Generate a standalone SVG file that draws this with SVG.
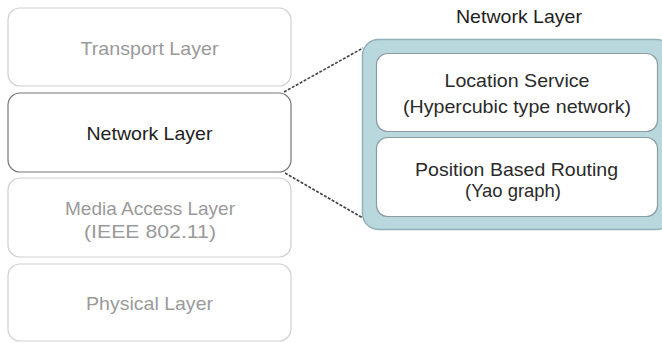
<svg xmlns="http://www.w3.org/2000/svg" width="662" height="343" viewBox="0 0 662 343">
<style>
text{font-family:"Liberation Sans",Arial,sans-serif;font-size:19px;text-anchor:middle}
.faded rect{fill:#fff;stroke:#cfcfcf;stroke-width:1.2}
.faded text{fill:#9a9a9a}
.active rect{fill:#fff;stroke:#777;stroke-width:1.2}
.active text{fill:#222}
.inner rect{fill:#fff;stroke:#8a9ea2;stroke-width:1.2}
.inner text{fill:#2a2a2a}
.dash{stroke:#444;stroke-width:1.6;stroke-dasharray:3 1.5;fill:none}
</style>
<rect width="662" height="343" fill="#fff"/>
<g id="transport" class="faded">
<rect x="8" y="8" width="283" height="78" rx="12"/>
<text x="149.5" y="55" textLength="138" lengthAdjust="spacingAndGlyphs">Transport Layer</text>
</g>
<g id="network" class="active">
<rect x="8" y="93" width="283" height="79" rx="12"/>
<text x="149.5" y="140" textLength="126" lengthAdjust="spacingAndGlyphs">Network Layer</text>
</g>
<g id="mac" class="faded">
<rect x="8" y="178" width="283" height="79" rx="12"/>
<text x="150" y="215" textLength="170" lengthAdjust="spacingAndGlyphs">Media Access Layer</text>
<text x="150" y="238" textLength="132" lengthAdjust="spacingAndGlyphs">(IEEE 802.11)</text>
</g>
<g id="physical" class="faded">
<rect x="8" y="264" width="283" height="77" rx="12"/>
<text x="149.5" y="310" textLength="127" lengthAdjust="spacingAndGlyphs">Physical Layer</text>
</g>
<g id="connectors">
<line class="dash" x1="284" y1="92" x2="363" y2="48"/>
<line class="dash" x1="285" y1="173" x2="363" y2="218"/>
</g>
<g id="network-detail">
<text x="519" y="23" fill="#222" textLength="126" lengthAdjust="spacingAndGlyphs">Network Layer</text>
<rect x="362.5" y="39.5" width="310" height="190" rx="16" fill="#b9d8de" stroke="#8fb1b8" stroke-width="1.5"/>
</g>
<g id="location-service" class="inner">
<rect x="376.5" y="53.5" width="281" height="78" rx="11"/>
<text x="517" y="87" textLength="145" lengthAdjust="spacingAndGlyphs">Location Service</text>
<text x="517" y="113" textLength="228" lengthAdjust="spacingAndGlyphs">(Hypercubic type network)</text>
</g>
<g id="position-routing" class="inner">
<rect x="376.5" y="137.5" width="281" height="79" rx="11"/>
<text x="516.5" y="176" textLength="203" lengthAdjust="spacingAndGlyphs">Position Based Routing</text>
<text x="513" y="197" textLength="96" lengthAdjust="spacingAndGlyphs">(Yao graph)</text>
</g>
</svg>
